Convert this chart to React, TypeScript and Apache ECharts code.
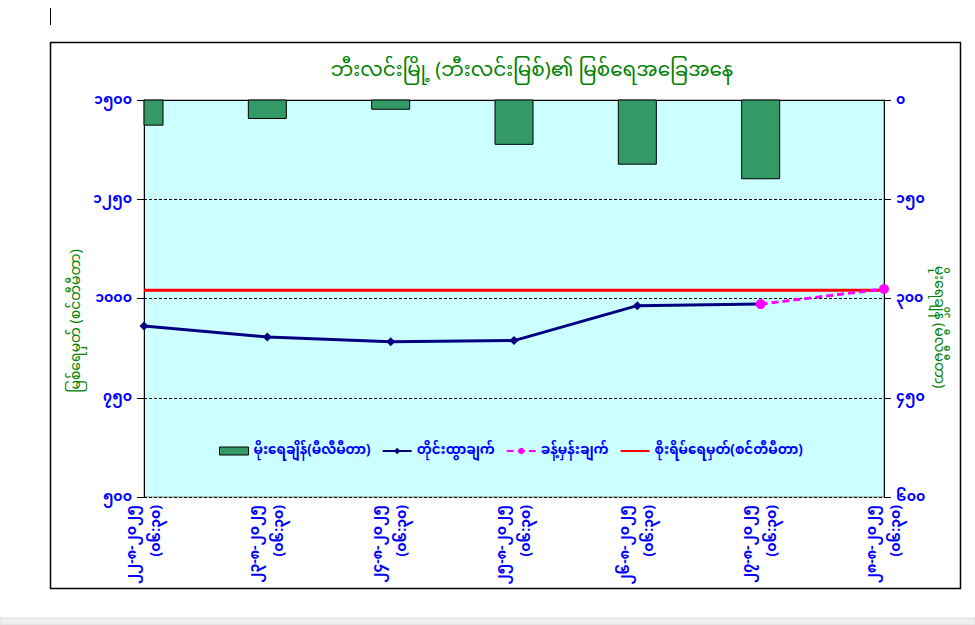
import React, { useEffect, useRef } from "react";
import * as echarts from "echarts";

const categories = [
  "၂၂-၈-၂၀၂၅\n(၀၆:၃၀)",
  "၂၃-၈-၂၀၂၅\n(၀၆:၃၀)",
  "၂၄-၈-၂၀၂၅\n(၀၆:၃၀)",
  "၂၅-၈-၂၀၂၅\n(၀၆:၃၀)",
  "၂၆-၈-၂၀၂၅\n(၀၆:၃၀)",
  "၂၇-၈-၂၀၂၅\n(၀၆:၃၀)",
  "၂၈-၈-၂၀၂၅\n(၀၆:၃၀)",
];
const rainfall = [38, 28, 14, 67, 97, 119, null];
const observed = [931, 903, 891, 894, 982, 986, null];
const forecast = [null, null, null, null, null, 986, 1024];
const dangerLevel = [1021, 1021, 1021, 1021, 1021, 1021, 1021];
const leftTicks = ["၅၀၀", "၇၅၀", "၁၀၀၀", "၁၂၅၀", "၁၅၀၀"];
const rightTicks = ["၀", "၁၅၀", "၃၀၀", "၄၅၀", "၆၀၀"];

const seriesNames = [
  "မိုးရေချိန်(မီလီမီတာ)",
  "တိုင်းထွာချက်",
  "ခန့်မှန်းချက်",
  "စိုးရိမ်ရေမှတ်(စင်တီမီတာ)",
];
const titleText = "ဘီးလင်းမြို့ (ဘီးလင်းမြစ်)၏ မြစ်ရေအခြေအနေ";
const leftName = "မြစ်ရေမှတ် (စင်တီမီတာ)";
const rightName = "မိုးရေချိန် (မီလီမီတာ)";

const FONT = "'Noto Sans Myanmar', 'Padauk', 'Myanmar Text', 'DejaVu Sans', 'Noto Sans', sans-serif";
const BLUE = "#0000FF";
const GREEN = "#008000";
const BAR_GREEN = "#339966";

export default function App() {
  const ref = useRef<HTMLDivElement>(null);
  useEffect(() => {
    document.body.style.margin = "0";
    if (!ref.current) return;
    const chart = echarts.init(ref.current, null, { renderer: "svg" });
    const leftMap: Record<string, string> = {};
    [500, 750, 1000, 1250, 1500].forEach((v, i) => (leftMap[String(v)] = leftTicks[i]));
    const rightMap: Record<string, string> = {};
    [0, 150, 300, 450, 600].forEach((v, i) => (rightMap[String(v)] = rightTicks[i]));
    const barData = rainfall.map((v, i) => [i, v]);
    chart.setOption({
      animation: false,
      backgroundColor: "#ffffff",
      textStyle: { fontFamily: FONT },
      title: {
        text: titleText,
        left: 527,
        top: 56,
        textAlign: "center",
        textStyle: { color: GREEN, fontSize: 20, fontWeight: "normal", fontFamily: FONT },
      },
      legend: {
        data: [
          {
            name: seriesNames[0],
            icon: "rect",
            itemStyle: { color: BAR_GREEN, borderColor: "#000", borderWidth: 1 },
          },
          { name: seriesNames[1] },
          { name: seriesNames[2] },
          { name: seriesNames[3], itemStyle: { opacity: 0 } },
        ],
        top: 439,
        left: 214,
        itemWidth: 29,
        itemHeight: 8,
        itemGap: 11,
        textStyle: { color: BLUE, fontSize: 13.5, fontWeight: "bold", fontFamily: FONT },
      },
      grid: {
        left: 144,
        top: 100,
        right: 91,
        bottom: 128,
        show: true,
        backgroundColor: "#CCFFFF",
        borderColor: "#808080",
        borderWidth: 1,
        containLabel: false,
      },
      xAxis: {
        type: "category",
        data: categories,
        boundaryGap: false,
        axisLine: { lineStyle: { color: "#000", width: 1 } },
        axisTick: { show: true, length: 5, lineStyle: { color: "#000" } },
        axisLabel: {
          rotate: 90,
          color: BLUE,
          fontSize: 14,
          fontWeight: "bold",
          lineHeight: 24,
          margin: 8,
          fontFamily: FONT,
        },
        splitLine: { show: false },
      },
      yAxis: [
        {
          type: "value",
          min: 500,
          max: 1500,
          interval: 250,
          position: "left",
          axisLine: { show: true, lineStyle: { color: "#000" } },
          axisTick: { show: true, length: 7, lineStyle: { color: "#000" } },
          axisLabel: {
            color: BLUE,
            fontSize: 14,
            fontWeight: "bold",
            margin: 12,
            fontFamily: FONT,
            formatter: (v: number) => leftMap[String(v)] ?? String(v),
          },
          splitLine: { show: true, lineStyle: { color: "#000", type: [3, 2], width: 1 } },
        },
        {
          type: "value",
          min: 0,
          max: 600,
          interval: 150,
          inverse: true,
          position: "right",
          axisLine: { show: true, lineStyle: { color: "#000" } },
          axisTick: { show: true, length: 7, lineStyle: { color: "#000" } },
          axisLabel: {
            color: BLUE,
            fontSize: 14,
            fontWeight: "bold",
            margin: 12,
            fontFamily: FONT,
            formatter: (v: number) => rightMap[String(v)] ?? String(v),
          },
          splitLine: { show: false },
        },
      ],
      series: [
        {
          name: seriesNames[0],
          type: "custom",
          yAxisIndex: 1,
          data: barData,
          encode: { x: 0, y: 1 },
          itemStyle: { color: BAR_GREEN, borderColor: "#000", borderWidth: 1 },
          renderItem: (params: any, api: any) => {
            const v = api.value(1);
            if (v == null || isNaN(v)) return null;
            const idx = api.value(0);
            const p0 = api.coord([idx, 0]);
            const p1 = api.coord([idx, v]);
            const w = 38;
            const cs = params.coordSys;
            const rect = echarts.graphic.clipRectByRect(
              { x: p0[0] - w / 2, y: p0[1], width: w, height: p1[1] - p0[1] },
              { x: cs.x, y: cs.y, width: cs.width, height: cs.height }
            );
            if (!rect) return null;
            return {
              type: "rect",
              shape: rect,
              style: { fill: BAR_GREEN, stroke: "#000", lineWidth: 1 },
            };
          },
          z: 2,
        },
        {
          name: seriesNames[1],
          type: "line",
          data: observed,
          symbol: "diamond",
          symbolSize: 9,
          lineStyle: { color: "#000080", width: 3 },
          itemStyle: { color: "#000080" },
          z: 5,
        },
        {
          name: seriesNames[2],
          type: "line",
          data: forecast,
          symbol: "circle",
          symbolSize: 10,
          lineStyle: { color: "#FF00FF", width: 3, type: [7, 4] },
          itemStyle: { color: "#FF00FF" },
          z: 6,
        },
        {
          name: seriesNames[3],
          type: "line",
          data: dangerLevel,
          symbol: "none",
          lineStyle: { color: "#FF0000", width: 3 },
          itemStyle: { color: "#FF0000", opacity: 0 },
          z: 4,
        },
      ],
      graphic: [
        {
          type: "rect",
          shape: { x: 50.5, y: 42.5, width: 910, height: 546 },
          style: { fill: "none", stroke: "#000", lineWidth: 1.5 },
          silent: true,
          z: -1,
        },
        {
          type: "line",
          shape: { x1: 50.5, y1: 8, x2: 50.5, y2: 25 },
          style: { stroke: "#000", lineWidth: 1 },
          silent: true,
        },
        {
          type: "rect",
          shape: { x: 0, y: 618, width: 975, height: 7 },
          style: { fill: "#f0f0f0", stroke: "#d9d9d9", lineWidth: 1 },
          silent: true,
        },
        {
          type: "text",
          x: 76,
          y: 321,
          rotation: Math.PI / 2,
          style: {
            text: leftName,
            fill: GREEN,
            fontSize: 14,
            fontFamily: FONT,
            textAlign: "center",
            textVerticalAlign: "middle",
          },
        },
        {
          type: "text",
          x: 938,
          y: 327,
          rotation: -Math.PI / 2,
          style: {
            text: rightName,
            fill: GREEN,
            fontSize: 14,
            fontFamily: FONT,
            textAlign: "center",
            textVerticalAlign: "middle",
          },
        },
      ],
    });
    return () => chart.dispose();
  }, []);
  return <div ref={ref} style={{ width: 975, height: 625 }} />;
}
